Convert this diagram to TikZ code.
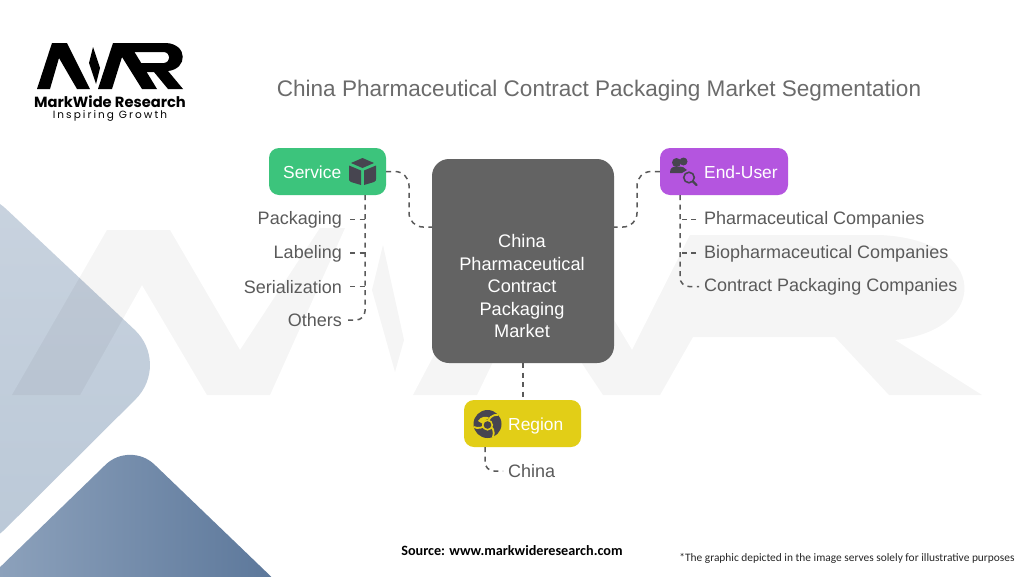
\documentclass[tikz,border=0pt]{standalone}
\usepackage{fontspec}
\setmainfont{Liberation Sans}
\newfontfamily\carl{Carlito}
\newfontfamily\pop{Poppins}
\usetikzlibrary{calc}
\definecolor{cGreen}{HTML}{3CC47C}
\definecolor{cPurple}{HTML}{B455DF}
\definecolor{cYellow}{HTML}{E2CE17}
\definecolor{cCore}{HTML}{636363}
\definecolor{cText}{HTML}{5A5A5A}
\definecolor{cIcon}{HTML}{474550}
\definecolor{Bone}{HTML}{C9D3DF}
\definecolor{Btwo}{HTML}{BAC8D7}
\definecolor{Bthree}{HTML}{93A7C0}
\definecolor{Bfour}{HTML}{567296}
\newcommand{\fs}[1]{\fontsize{#1}{#1}\selectfont}
\tikzset{
 x=1pt,y=-1pt,
 catbox/.style={rectangle,rounded corners=10pt,minimum width=#1,minimum height=47pt,inner sep=0pt},
 cattext/.style={text=white,font=\fs{17.4},inner sep=0pt},
 leaf/.style={text=cText,font=\fs{18},inner sep=0pt},
 conn/.style={draw=cText,line width=1.5pt,dash pattern=on 5pt off 4.5pt},
 wmark/.style={fill=black,opacity=.04},
}
\begin{document}
\begin{tikzpicture}
\useasboundingbox (0,0) rectangle (1024,576);
\begin{scope}
\clip (0,0) rectangle (1024,576);
\fill[white] (0,0) rectangle (1024,576);
% background shapes
\shade[rounded corners=50pt,top color=Bone,bottom color=Btwo] (-30,175) -- (171,364) -- (-30,564) -- cycle;
\shade[rounded corners=34pt,shading angle=120,left color=Bthree,right color=Bfour] (130,441) -- (-40,606) -- (310,614) -- cycle;
% watermark
\fill[wmark] (12,395) -- (107,230) -- (170,230) -- (240,350) -- (320,228) -- (345,228) -- (270,395) -- (207,395) -- (142,285) -- (80,395) -- cycle;
\fill[wmark] (383,245) -- (404,340) -- (395,372) -- (372,290) -- cycle;
\fill[wmark] (413,395) -- (500,230) -- (560,230) -- (632,350) -- (690,235) -- (880,235) .. controls (990,240) and (990,330) .. (895,340) -- (982,395) -- (889,395) -- (835,337) -- (693,337) -- (660,395) -- (603,395) -- (530,285) -- (477,395) -- cycle;
\end{scope}
% logo
\fill[black] (37,89) -- (52,43) -- (67,43) -- (90,89) -- (77,89) -- (59,58) -- (50,89) -- cycle;
\fill[black] (93,47) -- (100,68) -- (96,84) -- (89,63) -- cycle;
\fill[black] (98,89) -- (113,43) -- (129,43) -- (157,89) -- (142,89) -- (122,57) -- (112,89) -- cycle;
\fill[black] (125,43) -- (166,43) .. controls (188,44) and (188,69) .. (168,71) -- (183,89) -- (168,89) -- (154,72) -- (143,72) -- (140,63) -- (164,63) .. controls (171,62) and (171,53) .. (164,52) -- (131,52) -- cycle;
\node[inner sep=0pt,text=black] (brand) at (110,101.5) {\pop\bfseries\fs{14.7}MarkWide Research};
\node[inner sep=0pt,text=black] (tag) at (110,115.5) {\pop\addfontfeatures{LetterSpace=19.6}\fs{10.5}Inspiring Growth};
% title
\node[inner sep=0pt,text=cText!90!white] (title) at (599,90.5) {\fs{22.55}China Pharmaceutical Contract Packaging Market Segmentation};
% boxes
\node[catbox=117pt,fill=cGreen] (svc) at (327.5,171.5) {};
\node[catbox=128pt,fill=cPurple] (usr) at (724,171.5) {};
\node[catbox=117pt,fill=cYellow] (reg) at (522.5,423.5) {};
\node[rectangle,rounded corners=17pt,minimum width=182pt,minimum height=204pt,inner sep=0pt,fill=cCore] (core) at (523,261) {};
\node[inner sep=0pt,text=white,align=center,font=\fontsize{18.2}{22.5}\selectfont] (coreT) at (522,286) {China\\Pharmaceutical\\Contract\\Packaging\\Market};
\node[cattext,anchor=west] (svcT) at (283,172) {Service};
\node[cattext,anchor=west] (usrT) at (704,172) {End-User};
\node[cattext,anchor=west] (regT) at (508,425.5) {Region};
% leaves
\node[leaf,anchor=east] (l1) at (342,220) {Packaging};
\node[leaf,anchor=east] (l2) at (342,253.5) {Labeling};
\node[leaf,anchor=east] (l3) at (342,287) {Serialization};
\node[leaf,anchor=east] (l4) at (342,320.5) {Others};
\node[leaf,anchor=west] (r1) at (704,220) {Pharmaceutical Companies};
\node[leaf,anchor=west] (r2) at (704,253.5) {Biopharmaceutical Companies};
\node[leaf,anchor=west] (r3) at (704,287) {Contract Packaging Companies};
\node[leaf,anchor=west] (c1) at (508,471) {China};
% connector ports
\coordinate (coreL) at (432,227);
\coordinate (coreR) at (614,227);
\coordinate (sT) at (365,195);
\coordinate (uT) at (680,195);
\coordinate (rT) at (485,447);
% connectors
\draw[conn,rounded corners=14pt] (svc.east) -- (409,171.5) -- (409,227) -- (coreL);
\draw[conn,rounded corners=14pt] (usr.west) -- (637,171.5) -- (637,227) -- (coreR);
\draw[conn] (core.south) -- (reg.north -| core.south);
\draw[conn,rounded corners=9pt] (sT) -- (365,320) -- ($(l4.east)+(5,-.5)$);
\draw[conn] ($(l1.east)+(8,-.5)$) -- (365,219.5);
\draw[conn] ($(l2.east)+(8,-.5)$) -- (365,253);
\draw[conn] ($(l3.east)+(8,-.5)$) -- (365,286.5);
\draw[conn,rounded corners=9pt] (uT) -- (680,286.5) -- ($(r3.west)+(-5,-.5)$);
\draw[conn] ($(r1.west)+(-8,-.5)$) -- (680,219.5);
\draw[conn] ($(r2.west)+(-8,-.5)$) -- (680,253);
\draw[conn,rounded corners=9pt] (rT) -- (485,471) -- ($(c1.west)+(-5,0)$);
% cube icon
\fill[cIcon] (362.5,158) -- (374,163) -- (362.5,168) -- (351,163) -- cycle;
\fill[cIcon] (349,165.5) -- (361,170.5) -- (361,185) -- (351,182) .. controls (349,181) and (349,180) .. (349,179) -- cycle;
\fill[cIcon] (376,165.5) -- (364,170.5) -- (364,185) -- (374,182) .. controls (376,181) and (376,180) .. (376,179) -- cycle;
% users icon
\fill[cIcon] (683.5,161.5) circle (4pt);
\fill[cIcon] (676.5,162.5) circle (4.5pt);
\fill[cIcon] (670,173) .. controls (670,168) and (672,166.5) .. (677,166.5) .. controls (682,166.5) and (685,167) .. (687,170) -- (682,173) -- cycle;
\draw[cIcon,line width=1.6pt] (689,177.5) circle (5.3pt);
\draw[cIcon,line width=2.2pt,line cap=round] (693,181.5) -- (696.5,185);
% region icon
\fill[cIcon] (487.5,424) circle (14pt);
\fill[cYellow] (478,421) .. controls (481,416) and (486,416) .. (490,418) .. controls (486,419) and (484,421) .. (483,424) -- cycle;
\draw[cYellow,line width=1.8pt] (487.5,424) .. controls (488,418) and (493,414) .. (498,415);
\draw[cYellow,line width=1.8pt] (487.5,424) .. controls (493,426) and (495,432) .. (493,437);
\draw[cYellow,line width=1.8pt] (487.5,424) .. controls (483,428) and (477,429) .. (474,427);
\fill[cYellow] (487.5,425) circle (5.6pt);
\fill[cIcon] (487.5,425) circle (3.8pt);
% footer
\node[inner sep=0pt,text=black] (src) at (512,551) {\carl\bfseries\fs{14.2}Source: www.markwideresearch.com};
\node[inner sep=0pt,text=black!85] (note) at (847,558) {\carl\fs{11.4}*The graphic depicted in the image serves solely for illustrative purposes};
\end{tikzpicture}
\end{document}
